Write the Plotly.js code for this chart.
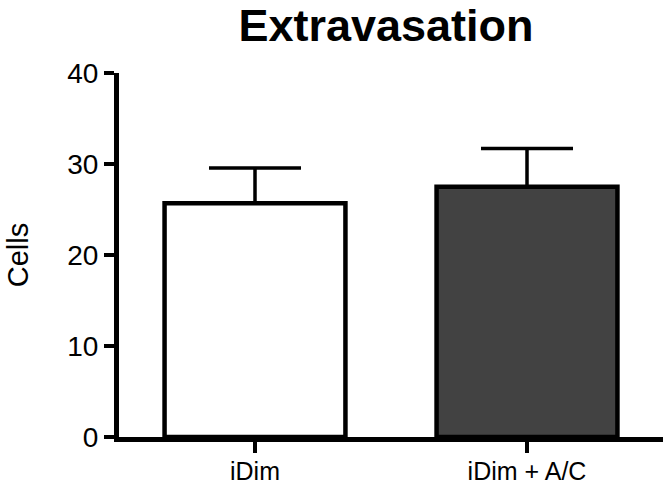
<!DOCTYPE html>
<html>
<head>
<meta charset="utf-8">
<script src="https://cdn.plot.ly/plotly-3.0.1.min.js"></script>
<style>html,body{margin:0;padding:0;background:#fff;}#chart{width:663px;height:487px;}</style>
</head>
<body>
<div id="chart"></div>
<script>
var categories = ["iDim", "iDim + A/C"];
var cellMeans = [25.7, 27.5];
var cellErrors = [3.85, 4.2];
var barColors = ["#ffffff", "#424242"];
var yTicks = [0, 10, 20, 30, 40];

var trace = {
  type: "bar",
  x: categories,
  y: cellMeans,
  width: 0.665,
  marker: { color: barColors, line: { color: "#000", width: 4.5 } },
  error_y: { type: "data", array: cellErrors, arrayminus: [0, 0], symmetric: false,
             visible: true, color: "#000", thickness: 3.5, width: 46 },
  hoverinfo: "none"
};

var layout = {
  width: 663, height: 487,
  margin: { l: 119, r: 0, t: 73, b: 50 },
  paper_bgcolor: "#fff", plot_bgcolor: "#fff",
  font: { family: "Liberation Sans, Arial, sans-serif", color: "#000", size: 26 },
  showlegend: false,
  title: { text: "<b>Extravasation</b>", x: 386 / 663, xref: "container", xanchor: "center",
           y: 0.948, yref: "container", yanchor: "middle",
           font: { size: 45, family: "Liberation Sans, Arial, sans-serif", color: "#000" } },
  xaxis: {
    type: "category", range: [-0.5, 1.5],
    showline: true, linecolor: "#000", linewidth: 5,
    ticks: "outside", ticklen: 11, tickwidth: 4.5, tickcolor: "#000",
    ticklabelstandoff: -3,
    showgrid: false, zeroline: false, fixedrange: true,
    tickfont: { size: 25 }
  },
  yaxis: {
    range: [0, 40], tickvals: yTicks, ticktext: yTicks.map(String),
    showline: true, linecolor: "#000", linewidth: 5,
    ticks: "outside", ticklen: 10, tickwidth: 4.5, tickcolor: "#000",
    showgrid: false, zeroline: false, fixedrange: true,
    tickfont: { size: 28 },
    title: { text: "Cells", font: { size: 29 }, standoff: 32 }
  }
};

Plotly.newPlot("chart", [trace], layout, { displayModeBar: false, staticPlot: true });
</script>
</body>
</html>
